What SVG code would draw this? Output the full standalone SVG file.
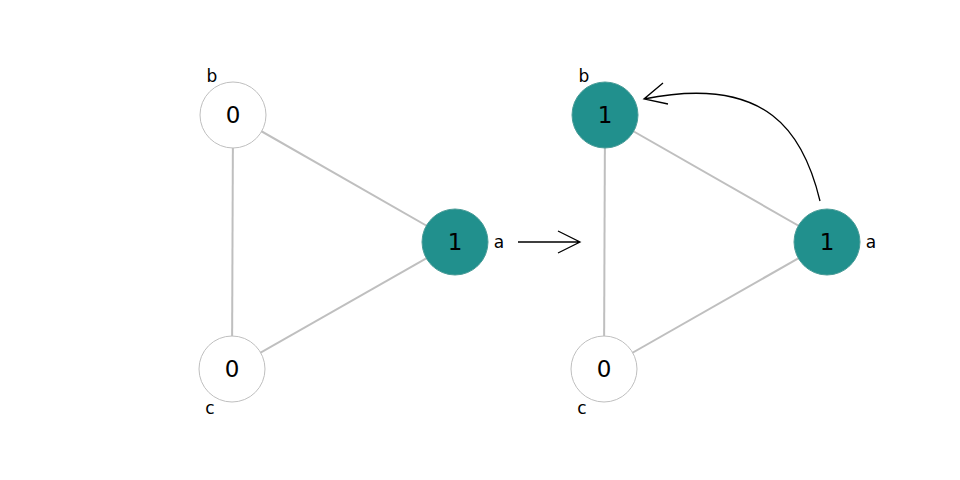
<svg xmlns="http://www.w3.org/2000/svg" width="960" height="480" viewBox="0 0 960 480">
<style>
.edge{stroke:#bfbfbf;stroke-width:2;fill:none}
.n0{fill:#ffffff;stroke:#bfbfbf;stroke-width:1}
.n1{fill:#21908d;stroke:#4a9c98;stroke-width:1}
.val{font-family:"DejaVu Sans",sans-serif;font-size:23px;text-anchor:middle;dominant-baseline:central;fill:#000}
.lbl{font-family:"DejaVu Sans",sans-serif;font-size:17px;text-anchor:middle;dominant-baseline:central;fill:#000}
.arr{stroke:#000;stroke-width:1.3;fill:none}
</style>
<rect width="960" height="480" fill="#fff"/>
<g id="connectors">
<line class="edge" x1="233" y1="115" x2="455" y2="242"/>
<line class="edge" x1="233" y1="115" x2="232" y2="369"/>
<line class="edge" x1="455" y1="242" x2="232" y2="369"/>
<line class="edge" x1="605" y1="115" x2="827" y2="242"/>
<line class="edge" x1="605" y1="115" x2="604" y2="369"/>
<line class="edge" x1="827" y1="242" x2="604" y2="369"/>
<path class="arr" d="M518,242 L580,242 M558,231 L580,242 L558,253"/>
<path class="arr" d="M820,201 C804,134 768,74 644,99 M663,83 L644,99 L668,104"/>
</g>
<g id="left-b"><circle class="n0" cx="233" cy="115" r="33"/><text class="val" x="233" y="115">0</text><text class="lbl" x="212" y="76">b</text></g>
<g id="left-a"><circle class="n1" cx="455" cy="242" r="33"/><text class="val" x="455" y="242">1</text><text class="lbl" x="499" y="242">a</text></g>
<g id="left-c"><circle class="n0" cx="232" cy="369" r="33"/><text class="val" x="232" y="369">0</text><text class="lbl" x="210" y="408">c</text></g>
<g id="right-b"><circle class="n1" cx="605" cy="115" r="33"/><text class="val" x="605" y="115">1</text><text class="lbl" x="584" y="76">b</text></g>
<g id="right-a"><circle class="n1" cx="827" cy="242" r="33"/><text class="val" x="827" y="242">1</text><text class="lbl" x="871" y="242">a</text></g>
<g id="right-c"><circle class="n0" cx="604" cy="369" r="33"/><text class="val" x="604" y="369">0</text><text class="lbl" x="582" y="408">c</text></g>
</svg>
